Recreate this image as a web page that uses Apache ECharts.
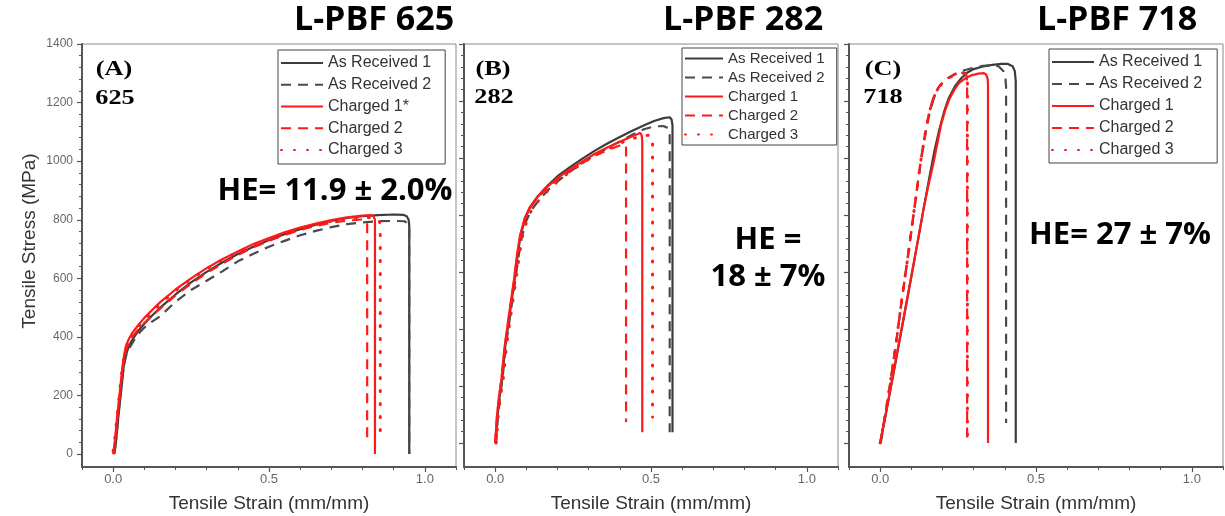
<!DOCTYPE html>
<html>
<head>
<meta charset="utf-8">
<title>Tensile curves of L-PBF 625, 282 and 718</title>
<script src="https://cdn.jsdelivr.net/npm/echarts@6/dist/echarts.min.js"></script>
<style>
  html, body { margin: 0; padding: 0; background: #fff; }
  #chart { width: 1225px; height: 516px; }
</style>
</head>
<body>
<div id="chart"></div>
<script>
// ---- tick values ----
const stressTicks = [0, 200, 400, 600, 800, 1000, 1200, 1400];
const stressMinor = [40, 80, 120, 160, 240, 280, 320, 360, 440, 480, 520, 560, 640, 680, 720, 760,
  840, 880, 920, 960, 1040, 1080, 1120, 1160, 1240, 1280, 1320, 1360];
const strainTicks = [0, 0.5, 1.0];
const strainMinor = [-0.1, 0.1, 0.2, 0.3, 0.4, 0.6, 0.7, 0.8, 0.9, 1.1];

// ---- legend names ----
const namesA = ['As Received 1', 'As Received 2', 'Charged 1*', 'Charged 2', 'Charged 3'];
const namesBC = ['As Received 1', 'As Received 2', 'Charged 1', 'Charged 2', 'Charged 3'];

// ---- L-PBF 625: [strain, stress MPa] ----
const a625Received1 = [[0.004,0],[0.01,50],[0.016,120],[0.022,180],[0.028,240],[0.034,300],[0.04,335],[0.047,358],[0.055,378],[0.065,396],[0.08,420],[0.1,445],[0.125,473],[0.15,499],[0.2,545],[0.25,586],[0.3,622],[0.35,654],[0.4,683],[0.45,708],[0.5,731],[0.55,751],[0.6,768],[0.65,783],[0.7,796],[0.75,806],[0.8,812],[0.85,816],[0.9,818],[0.93,817],[0.942,812],[0.948,800],[0.95,780],[0.95,0]];
const a625Received2 = [[0.006,20],[0.012,80],[0.018,150],[0.024,210],[0.03,270],[0.037,318],[0.045,348],[0.054,366],[0.07,394],[0.087,418],[0.11,442],[0.15,470],[0.2,520],[0.25,560],[0.3,592],[0.35,624],[0.4,658],[0.45,684],[0.5,708],[0.55,728],[0.6,747],[0.65,762],[0.7,775],[0.75,785],[0.8,791],[0.85,795],[0.9,796],[0.935,795],[0.945,788],[0.95,775],[0.95,0]];
const a625Charged1 = [[0.0,0],[0.006,50],[0.012,120],[0.018,180],[0.024,240],[0.03,300],[0.036,345],[0.042,372],[0.05,392],[0.06,412],[0.08,440],[0.1,465],[0.125,492],[0.15,518],[0.2,562],[0.25,600],[0.3,635],[0.35,665],[0.4,692],[0.45,717],[0.5,738],[0.55,757],[0.6,773],[0.65,787],[0.7,799],[0.75,808],[0.8,814],[0.825,816],[0.835,812],[0.84,800],[0.84,0]];
const a625Charged2 = [[0.002,0],[0.008,60],[0.014,130],[0.02,190],[0.026,250],[0.032,305],[0.038,342],[0.045,366],[0.055,388],[0.07,412],[0.09,437],[0.12,468],[0.15,496],[0.2,542],[0.25,582],[0.3,618],[0.35,650],[0.4,680],[0.45,706],[0.5,728],[0.55,748],[0.6,765],[0.65,779],[0.7,790],[0.75,797],[0.8,801],[0.81,798],[0.815,785],[0.815,48]];
const a625Charged3 = [[0.0,10],[0.006,60],[0.012,125],[0.018,185],[0.024,245],[0.03,300],[0.036,340],[0.043,368],[0.052,388],[0.065,408],[0.08,432],[0.1,458],[0.15,512],[0.2,558],[0.25,598],[0.3,633],[0.35,663],[0.4,690],[0.45,714],[0.5,735],[0.55,754],[0.6,770],[0.65,784],[0.7,795],[0.75,803],[0.8,808],[0.84,808],[0.852,800],[0.857,785],[0.857,44]];

// ---- L-PBF 282 ----
const b282Received1 = [[0.002,0],[0.008,100],[0.014,160],[0.022,225],[0.032,335],[0.047,455],[0.062,570],[0.072,660],[0.082,730],[0.097,790],[0.112,828],[0.137,866],[0.167,902],[0.2,936],[0.24,968],[0.28,998],[0.32,1026],[0.36,1051],[0.4,1074],[0.44,1096],[0.48,1116],[0.51,1130],[0.54,1140],[0.56,1143],[0.566,1135],[0.569,1115],[0.569,38]];
const b282Received2 = [[0.003,0],[0.009,100],[0.016,165],[0.024,230],[0.034,340],[0.05,460],[0.065,575],[0.075,655],[0.086,725],[0.1,780],[0.115,815],[0.14,852],[0.17,888],[0.2,918],[0.24,952],[0.28,982],[0.32,1010],[0.36,1035],[0.4,1058],[0.44,1082],[0.48,1102],[0.51,1111],[0.54,1112],[0.555,1105],[0.56,1090],[0.56,38]];
const b282Charged1 = [[0,0],[0.006,100],[0.012,160],[0.02,225],[0.03,335],[0.045,455],[0.06,570],[0.07,660],[0.08,730],[0.095,790],[0.11,825],[0.135,862],[0.165,897],[0.2,930],[0.24,960],[0.28,988],[0.32,1015],[0.36,1037],[0.4,1057],[0.44,1076],[0.465,1088],[0.47,1080],[0.472,1060],[0.472,38]];
const b282Charged2 = [[0,0],[0.006,95],[0.013,165],[0.021,230],[0.031,340],[0.046,460],[0.061,572],[0.071,660],[0.081,728],[0.096,788],[0.111,823],[0.136,860],[0.166,894],[0.2,926],[0.24,956],[0.28,983],[0.32,1008],[0.36,1028],[0.4,1044],[0.415,1048],[0.42,1038],[0.42,74]];
const b282Charged3 = [[0.003,0],[0.01,100],[0.018,170],[0.027,235],[0.037,345],[0.052,462],[0.067,575],[0.078,662],[0.088,728],[0.103,785],[0.118,820],[0.143,856],[0.173,890],[0.2,918],[0.24,952],[0.28,982],[0.32,1010],[0.36,1032],[0.4,1052],[0.44,1068],[0.48,1079],[0.5,1080],[0.505,1070],[0.505,91]];

// ---- L-PBF 718 ----
const c718Received1 = [[0,0],[0.02,112],[0.04,228],[0.06,346],[0.08,464],[0.1,584],[0.12,704],[0.14,826],[0.16,944],[0.175,1030],[0.19,1100],[0.205,1162],[0.22,1210],[0.24,1252],[0.26,1280],[0.28,1300],[0.3,1312],[0.33,1321],[0.36,1327],[0.39,1330],[0.41,1330],[0.425,1322],[0.432,1305],[0.435,1270],[0.435,0]];
const c718Received2 = [[0.002,0],[0.02,120],[0.035,228],[0.05,340],[0.07,505],[0.09,660],[0.115,862],[0.13,985],[0.145,1085],[0.16,1165],[0.175,1220],[0.19,1252],[0.21,1275],[0.24,1295],[0.27,1308],[0.3,1317],[0.33,1323],[0.36,1326],[0.38,1322],[0.395,1305],[0.402,1280],[0.404,1250],[0.404,70]];
const c718Charged1 = [[0,0],[0.02,115],[0.04,232],[0.06,350],[0.08,468],[0.1,585],[0.12,705],[0.14,825],[0.155,905],[0.173,993],[0.185,1060],[0.195,1115],[0.208,1165],[0.221,1204],[0.237,1238],[0.253,1263],[0.275,1281],[0.295,1291],[0.315,1296],[0.333,1298],[0.34,1293],[0.345,1278],[0.346,1250],[0.346,0]];
const c718Charged2 = [[0,0],[0.02,125],[0.035,232],[0.05,345],[0.07,510],[0.09,665],[0.115,870],[0.13,990],[0.145,1090],[0.157,1160],[0.17,1210],[0.185,1245],[0.2,1265],[0.22,1282],[0.24,1293],[0.26,1300],[0.272,1300],[0.277,1290],[0.279,1265],[0.279,0]];
const c718Charged3 = [[0,0],[0.02,122],[0.035,230],[0.05,342],[0.07,508],[0.09,662],[0.115,866],[0.13,988],[0.145,1088],[0.157,1158],[0.17,1208],[0.185,1243],[0.2,1263],[0.22,1281],[0.24,1292],[0.26,1299],[0.273,1298],[0.278,1288],[0.28,1262],[0.28,0]];

// ---- panel layout ----
const GRAY = '#3c3c3c';
const GRAY_DASH = '#4a4a4a';
const RED = '#ff1a1a';
const panels = [
  { left: 82,  yMin: -44, showLabels: true,  names: namesA,
    data: [a625Received1, a625Received2, a625Charged1, a625Charged2, a625Charged3],
    legend: { left: 278, top: 50, itemWidth: 42, itemGap: 5.75, fontSize: 16, padding: [5, 14, 6, 2] } },
  { left: 464, yMin: -84, showLabels: false, names: namesBC,
    data: [b282Received1, b282Received2, b282Charged1, b282Charged2, b282Charged3],
    legend: { left: 682, top: 48, itemWidth: 38, itemGap: 4, fontSize: 15, padding: [3, 12, 3, 2] } },
  { left: 849, yMin: -84, showLabels: false, names: namesBC,
    data: [c718Received1, c718Received2, c718Charged1, c718Charged2, c718Charged3],
    legend: { left: 1049, top: 49, itemWidth: 42, itemGap: 6, fontSize: 16, padding: [5, 15, 5, 2] } }
];
const lineStyles = [
  { color: GRAY, width: 2.2, type: 'solid' },
  { color: GRAY_DASH, width: 2.2, type: [10, 7] },
  { color: RED, width: 2.2, type: 'solid' },
  { color: RED, width: 2.2, type: [10, 7] },
  { color: RED, width: 3, type: [1, 12], cap: 'round' }
];

const grid = [], xAxis = [], yAxis = [], series = [], legend = [];
panels.forEach((p, i) => {
  grid.push({ left: p.left, top: 44, width: 374, height: 423, show: true,
    borderColor: '#8a8a8a', borderWidth: 1, backgroundColor: 'transparent', outerBoundsMode: 'none' });

  // major x axis with labels and name
  xAxis.push({ type: 'value', gridIndex: i, position: 'bottom', min: -0.1, max: 1.1,
    axisLine: { show: true, onZero: false, lineStyle: { color: '#555', width: 2 } },
    axisTick: { show: true, length: 5, customValues: strainTicks, lineStyle: { color: '#555', width: 1.2 } },
    axisLabel: { show: true, customValues: strainTicks, margin: 6, fontSize: 13, color: '#666',
      fontFamily: 'Arial', formatter: v => v.toFixed(1) },
    splitLine: { show: false },
    name: 'Tensile Strain (mm/mm)', nameLocation: 'middle', nameGap: 27,
    nameTextStyle: { fontSize: 19, color: '#333', fontFamily: 'Arial' } });
  // minor x ticks
  xAxis.push({ type: 'value', gridIndex: i, position: 'bottom', min: -0.1, max: 1.1,
    axisLine: { show: false, onZero: false },
    axisTick: { show: true, length: 3, customValues: strainMinor, lineStyle: { color: '#555', width: 1 } },
    axisLabel: { show: false }, splitLine: { show: false } });

  // major y axis
  yAxis.push({ type: 'value', gridIndex: i, position: 'left', min: p.yMin, max: 1400,
    axisLine: { show: true, onZero: false, lineStyle: { color: '#555', width: 2 } },
    axisTick: { show: true, length: 5, customValues: stressTicks, lineStyle: { color: '#555', width: 1.2 } },
    axisLabel: { show: p.showLabels, customValues: stressTicks, margin: 9, fontSize: 12, color: '#666',
      fontFamily: 'Arial', formatter: v => String(v) },
    splitLine: { show: false } });
  // minor y ticks
  yAxis.push({ type: 'value', gridIndex: i, position: 'left', min: p.yMin, max: 1400,
    axisLine: { show: false, onZero: false },
    axisTick: { show: true, length: 3, customValues: stressMinor, lineStyle: { color: '#555', width: 1 } },
    axisLabel: { show: false }, splitLine: { show: false } });

  p.data.forEach((d, k) => {
    series.push({ type: 'line', name: p.names[k], xAxisIndex: 2 * i, yAxisIndex: 2 * i,
      data: d, symbol: 'none', showSymbol: false, smooth: false, animation: false,
      lineStyle: lineStyles[k], itemStyle: { color: lineStyles[k].color },
      z: k >= 2 ? 3 : 2 });
  });

  // legend keys show the line pattern only (marker hidden)
  legend.push({ data: p.names, orient: 'vertical', left: p.legend.left, top: p.legend.top,
    itemWidth: p.legend.itemWidth, itemHeight: 14, itemGap: p.legend.itemGap,
    padding: p.legend.padding, borderColor: '#444', borderWidth: 1, borderRadius: 0,
    backgroundColor: '#fff', selectedMode: false,
    itemStyle: { opacity: 0, borderWidth: 0 },
    textStyle: { fontSize: p.legend.fontSize, color: '#333', fontFamily: 'Arial', lineHeight: 14 } });
});

// ---- free text ----
function label(x, y, text, font, opts) {
  return Object.assign({ type: 'text', x: x, y: y, z: 10,
    style: { text: text, font: font, fill: '#000', align: 'center', verticalAlign: 'middle',
      textAlign: 'center', textVerticalAlign: 'middle' } }, opts || {});
}
const titleFont = 'bold 34px "Open Sans"';
const heFont = 'bold 31px "Open Sans"';
const tagFont = 'bold 21px "Liberation Serif"';
const graphic = [
  label(374, 20, 'L-PBF 625', titleFont),
  label(743, 20, 'L-PBF 282', titleFont),
  label(1117, 20, 'L-PBF 718', titleFont),
  label(335, 191, 'HE= 11.9 ± 2.0%', heFont),
  label(768, 240, 'HE =', heFont),
  label(768, 277, '18 ± 7%', heFont),
  label(1120, 235, 'HE= 27 ± 7%', heFont),
  label(114, 70, '(A)', tagFont, { scaleX: 1.25 }),
  label(115, 99, '625', tagFont, { scaleX: 1.25 }),
  label(493, 70, '(B)', tagFont, { scaleX: 1.25 }),
  label(494, 98, '282', tagFont, { scaleX: 1.25 }),
  label(883, 70, '(C)', tagFont, { scaleX: 1.25 }),
  label(883, 98, '718', tagFont, { scaleX: 1.25 }),
  Object.assign(label(30, 241, 'Tensile Stress (MPa)', '19px Arial'), { rotation: Math.PI / 2 })
];
graphic[graphic.length - 1].style.fill = '#333';

const chart = echarts.init(document.getElementById('chart'), null, { renderer: 'canvas' });
chart.setOption({
  animation: false,
  backgroundColor: '#fff',
  grid, xAxis, yAxis, series, legend, graphic
});
</script>
</body>
</html>
